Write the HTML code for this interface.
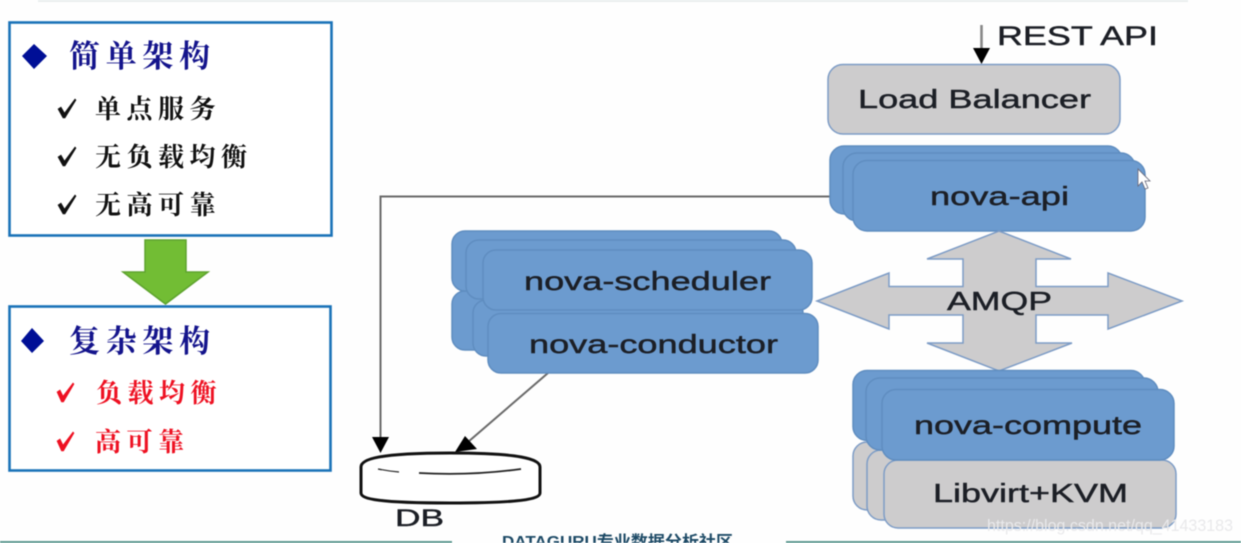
<!DOCTYPE html>
<html>
<head>
<meta charset="utf-8">
<style>
html,body{margin:0;padding:0;background:#fff;width:1241px;height:543px;overflow:hidden}
svg{display:block;filter:blur(0.6px)}
.l{font-family:"Liberation Sans",sans-serif;fill:#1c1f26;stroke:#1c1f26;stroke-width:0.45}
.c{font-family:"Liberation Serif","Noto Serif CJK SC",serif;font-weight:700}
.b{fill:#6c9bcf;stroke:#5f8dc0;stroke-width:1.5}
.g{fill:#cdcccd;stroke:#7d9cc6;stroke-width:1.5}
</style>
</head>
<body>
<svg width="1241" height="543" viewBox="0 0 1241 543" xmlns="http://www.w3.org/2000/svg">
<rect x="0" y="0" width="1241" height="543" fill="#fefefe"/>
<rect x="38" y="0" width="1150" height="2" fill="#e9eeee"/>

<!-- left boxes -->
<rect x="9.500" y="22.500" width="322" height="213" fill="#fff" stroke="#1a72b8" stroke-width="2.600"/>
<polygon points="34,44 47,56 34,69 22,56" fill="#000f96"/>
<text class="c" x="69" y="67" font-size="31" letter-spacing="5.700" fill="#14148c">简单架构</text>
<g fill="#111" stroke="#111" stroke-width="0.600">
<path d="M58 109 L61 107 L64.500 113 L75 99 L76 100 L65 118 L63 118 Z"/>
<path d="M58 157 L61 155 L64.500 161 L75 147 L76 148 L65 166 L63 166 Z"/>
<path d="M58 205 L61 203 L64.500 209 L75 195 L76 196 L65 214 L63 214 Z"/>
</g>
<g class="c" font-size="26" letter-spacing="5.500" fill="#111">
<text x="95" y="118">单点服务</text>
<text x="95" y="166">无负载均衡</text>
<text x="95" y="214">无高可靠</text>
</g>

<polygon points="145,240 186,240 186,272 208,272 165.500,304 123,272 145,272" fill="#72bd34" stroke="#5ea32e" stroke-width="1.500"/>

<rect x="9.500" y="306.500" width="321" height="164" fill="#fff" stroke="#1a72b8" stroke-width="2.600"/>
<polygon points="32,328 44,341 32,353 21,341" fill="#000f96"/>
<text class="c" x="69" y="352" font-size="31" letter-spacing="5.700" fill="#14148c">复杂架构</text>
<g fill="#ee1122" stroke="#ee1122" stroke-width="0.600">
<path d="M57 392 L60 390 L63 396 L73 383 L74 384 L63.500 402 L61.500 402 Z"/>
<path d="M57 441 L60 439 L63 445 L73 432 L74 433 L63.500 451 L61.500 451 Z"/>
</g>
<g class="c" font-size="26" letter-spacing="5.500" fill="#ee1122">
<text x="96" y="402">负载均衡</text>
<text x="95" y="451">高可靠</text>
</g>

<!-- connectors -->
<path d="M842 196.500 H380.500 V440" fill="none" stroke="#6a6a6a" stroke-width="2"/>
<polygon points="372,437 389,437 380.500,453" fill="#000"/>
<path d="M548 373 L468 442" fill="none" stroke="#6a6a6a" stroke-width="2"/>
<polygon points="465,436 477,449 455,452" fill="#000"/>
<path d="M981.500 25 V50" fill="none" stroke="#888" stroke-width="2.600"/>
<polygon points="973,48 990,48 981.500,64" fill="#000"/>
<text class="l" x="997" y="45" font-size="27" textLength="161" lengthAdjust="spacingAndGlyphs">REST API</text>

<!-- load balancer -->
<rect class="g" x="828" y="64.500" width="292" height="69.500" rx="15"/>
<text class="l" x="858" y="108" font-size="26" textLength="233" lengthAdjust="spacingAndGlyphs">Load Balancer</text>

<!-- nova-api -->
<rect class="b" x="830" y="146" width="292" height="68" rx="14"/>
<rect class="b" x="843" y="153" width="292" height="68" rx="14"/>
<rect class="b" x="853" y="160.500" width="292" height="70.500" rx="14"/>
<text class="l" x="930" y="205" font-size="26" textLength="139" lengthAdjust="spacingAndGlyphs">nova-api</text>

<!-- conductor stack -->
<rect class="b" x="452" y="291" width="330" height="59" rx="13"/>
<rect class="b" x="473" y="300" width="330" height="56" rx="13"/>
<!-- scheduler stack -->
<rect class="b" x="452" y="231" width="330" height="60" rx="13"/>
<rect class="b" x="466" y="240" width="330" height="59" rx="13"/>
<rect class="b" x="483" y="250" width="329" height="60" rx="13"/>
<text class="l" x="524" y="290" font-size="26" textLength="247" lengthAdjust="spacingAndGlyphs">nova-scheduler</text>
<rect class="b" x="488" y="313.500" width="330" height="59.500" rx="13"/>
<text class="l" x="529" y="353" font-size="26" textLength="249" lengthAdjust="spacingAndGlyphs">nova-conductor</text>

<!-- AMQP -->
<polygon class="g" points="999,231 1071,259 1036,259 1036,286.500 1108,286.500 1108,273 1182,301 1108,329 1108,315 1036,315 1036,343 1072,343 999,371 927,343 963,343 963,315 889,315 889,329 817,301 889,273 889,286.500 963,286.500 963,259 927,259"/>
<text class="l" x="947" y="310" font-size="26" textLength="105" lengthAdjust="spacingAndGlyphs">AMQP</text>

<!-- libvirt -->
<rect class="g" x="853" y="442" width="292" height="68" rx="14"/>
<rect class="g" x="867" y="450" width="292" height="70" rx="14"/>
<rect class="g" x="884" y="460" width="292" height="68" rx="14"/>
<text class="l" x="933" y="502" font-size="26" textLength="195" lengthAdjust="spacingAndGlyphs">Libvirt+KVM</text>

<!-- nova-compute -->
<rect class="b" x="853" y="370.500" width="292" height="70" rx="14"/>
<rect class="b" x="866" y="378" width="292" height="72" rx="14"/>
<rect class="b" x="882" y="389.500" width="292" height="70.500" rx="14"/>
<text class="l" x="914" y="434" font-size="26" textLength="228" lengthAdjust="spacingAndGlyphs">nova-compute</text>

<!-- DB -->
<path d="M361 467 C361 459 380 453 450 453 C520 453 540 459 540 467 V493 C540 499 520 503 450 503 C380 503 361 499 361 493 Z" fill="#fff" stroke="#111" stroke-width="3"/>
<path d="M378 469 Q388 471 399 472" fill="none" stroke="#222" stroke-width="1.200"/>
<path d="M419 473 Q470 476 521 469" fill="none" stroke="#222" stroke-width="1.800"/>
<text class="l" x="395" y="526" font-size="24" textLength="49" lengthAdjust="spacingAndGlyphs">DB</text>

<!-- watermark -->
<text x="987" y="531" font-family="Liberation Sans, sans-serif" font-size="17" textLength="246" lengthAdjust="spacingAndGlyphs" fill="#e9e9eb">https://blog.csdn.net/qq_41433183</text>

<!-- footer -->
<rect x="0" y="541" width="452" height="2" fill="#5f9a92"/>
<rect x="786" y="541" width="455" height="2" fill="#5f9a92"/>
<text x="502" y="547" font-family="Liberation Sans, Noto Sans CJK SC, sans-serif" font-size="16" font-weight="700" fill="#1d4a66" textLength="231" lengthAdjust="spacingAndGlyphs">DATAGURU专业数据分析社区</text>

<!-- cursor -->
<path d="M1138 169 V186 L1142 182 L1145 189 L1148 188 L1145 181 L1150 181 Z" fill="#fff" stroke="#667" stroke-width="0.800"/>
</svg>
</body>
</html>
